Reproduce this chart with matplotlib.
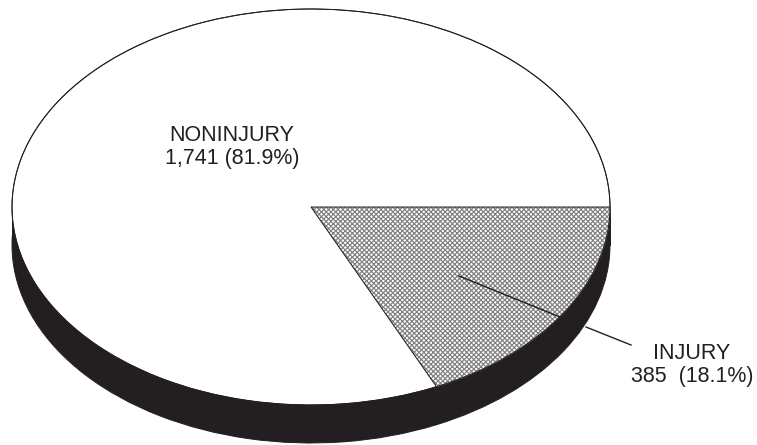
import matplotlib
matplotlib.use("Agg")
import matplotlib.pyplot as plt
from matplotlib.patches import Rectangle

plt.rcParams['font.family'] = ['Liberation Sans', 'DejaVu Sans']
plt.rcParams['hatch.linewidth'] = 0.85

# slices, clockwise from 3 o'clock
categories = ["INJURY", "NONINJURY"]
counts = [385, 1741]
labels = ["INJURY\n385  (18.1%)", "NONINJURY\n1,741 (81.9%)"]

W, H = 757, 445
CX, CY = 311, 207      # centre of top face, px
RX, RY = 299, 198      # radii of top face, px
DEPTH = 38 / RY        # thickness of the disc


def to_x(px):
    return (px - CX) / RX


def to_y(py):
    return (CY - py) / RY


fig = plt.figure(figsize=(W / 100, H / 100), dpi=100)
ax = fig.add_axes([0, 0, 1, 1])

# side of the disc: shifted pie plus a band joining it to the top face
ax.pie(counts, radius=1, center=(0, -DEPTH), startangle=0, counterclock=False,
       colors=["#231f20", "#231f20"], wedgeprops=dict(edgecolor="#231f20", linewidth=0.7))
ax.add_patch(Rectangle((-1, -DEPTH), 2, DEPTH, facecolor="#231f20", edgecolor="#231f20",
                       linewidth=0.7, zorder=1))

# top face
wedges, _ = ax.pie(counts, radius=1, center=(0, 0), startangle=0, counterclock=False,
                   colors=["white", "white"],
                   wedgeprops=dict(edgecolor="#231f20", linewidth=0.7, zorder=3))
wedges[0].set_hatch("xxxxxxx")
wedges[0].set_edgecolor("#808080")
wedges[0].set_facecolor("#ffffff")

outline = ax.pie([1], radius=1, center=(0, 0), colors=["none"],
                 wedgeprops=dict(edgecolor="#231f20", linewidth=0.7, zorder=4))

ax.set_aspect("auto")
ax.set_xlim(to_x(0), to_x(W))
ax.set_ylim(to_y(H), to_y(0))

# leader line, hidden where it crosses the dark side
ax.plot([to_x(459), to_x(560)], [to_y(276), to_y(317)], color="#231f20", lw=1.0, zorder=5)
ax.plot([to_x(586), to_x(631)], [to_y(327), to_y(345)], color="#231f20", lw=1.0, zorder=5)

ax.text(to_x(232), to_y(147), labels[1], ha="center", va="center", fontsize=15.5,
        color="#231f20", linespacing=1.15, zorder=6)
ax.text(to_x(692), to_y(365), labels[0], ha="center", va="center", fontsize=15.5,
        color="#231f20", linespacing=1.15, zorder=6)

fig.savefig("out.png", dpi=100)
